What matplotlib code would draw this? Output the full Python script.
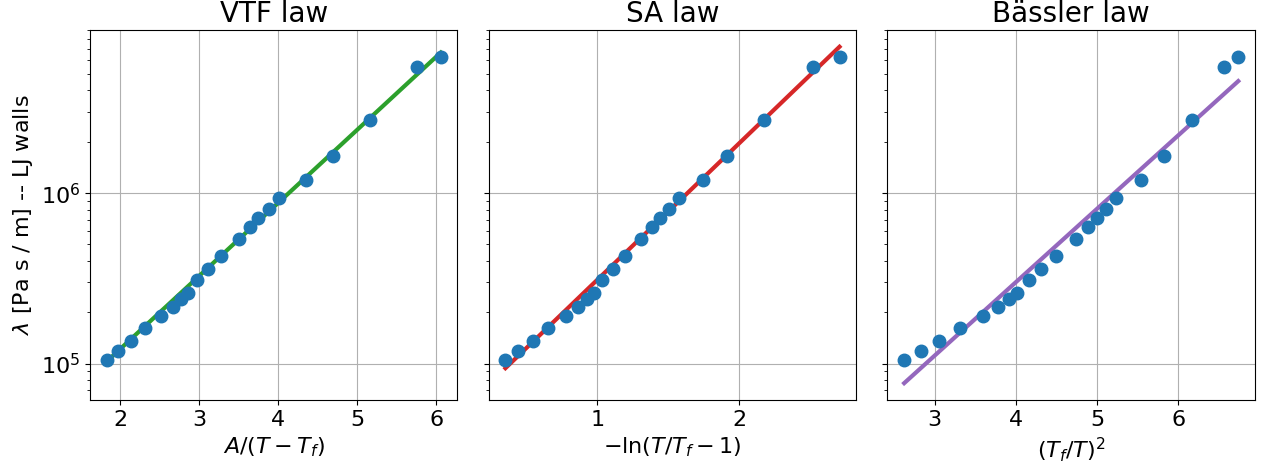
import matplotlib.pyplot as plt
import numpy as np

# friction coefficient, shared by the three panels
lam = [1.056e5, 1.19e5, 1.35e5, 1.61e5, 1.90e5, 2.14e5, 2.39e5, 2.59e5,
       3.09e5, 3.58e5, 4.26e5, 5.36e5, 6.33e5, 7.10e5, 8.02e5, 9.31e5,
       1.198e6, 1.655e6, 2.69e6, 5.48e6, 6.31e6]

# abscissae for each law
x_vtf = [1.83, 1.975, 2.135, 2.31, 2.516, 2.663, 2.767, 2.86, 2.977, 3.107,
         3.275, 3.50, 3.64, 3.75, 3.877, 4.01, 4.35, 4.695, 5.164, 5.76, 6.055]
x_sa = [0.354, 0.446, 0.547, 0.657, 0.779, 0.866, 0.925, 0.977, 1.037, 1.108,
        1.199, 1.31, 1.385, 1.444, 1.505, 1.573, 1.742, 1.916, 2.172, 2.517, 2.705]
x_bassler = [2.623, 2.828, 3.053, 3.307, 3.593, 3.782, 3.912, 4.016, 4.158, 4.31,
             4.50, 4.74, 4.887, 5.0, 5.11, 5.23, 5.54, 5.82, 6.175, 6.56, 6.74]

# fits: log10(lambda) = a + b * x
fit_vtf = (4.227, 0.429)
fit_sa = (4.689, 0.802)
fit_bassler = (3.756, 0.4304)

titles = ["VTF law", "SA law", "Bässler law"]
xlabels = [r"$A/(T-T_f)$", r"$-\ln(T/T_f-1)$", r"$(T_f/T)^2$"]
colors = ["tab:green", "tab:red", "tab:purple"]

fig, axes = plt.subplots(1, 3, figsize=(12.67, 4.68), dpi=100, sharey=True)
fig.subplots_adjust(left=0.071, right=0.9905, bottom=0.1453, top=0.936, wspace=0.085)

for ax, xs, fit, c, title, xl in zip(axes, [x_vtf, x_sa, x_bassler],
                                     [fit_vtf, fit_sa, fit_bassler],
                                     colors, titles, xlabels):
    xs = np.array(xs)
    xf = np.array([xs.min(), xs.max()])
    ax.plot(xf, 10 ** (fit[0] + fit[1] * xf), color=c, lw=3, zorder=2)
    ax.plot(xs, lam, "o", color="tab:blue", ms=9, zorder=3)
    ax.set_yscale("log")
    ax.grid(True)
    ax.set_title(title, fontsize=20)
    ax.set_xlabel(xl, fontsize=16)
    ax.tick_params(labelsize=16)

axes[0].set_ylabel(r"$\lambda$ [Pa s / m] -- LJ walls", fontsize=16)

fig.savefig("out.png")
